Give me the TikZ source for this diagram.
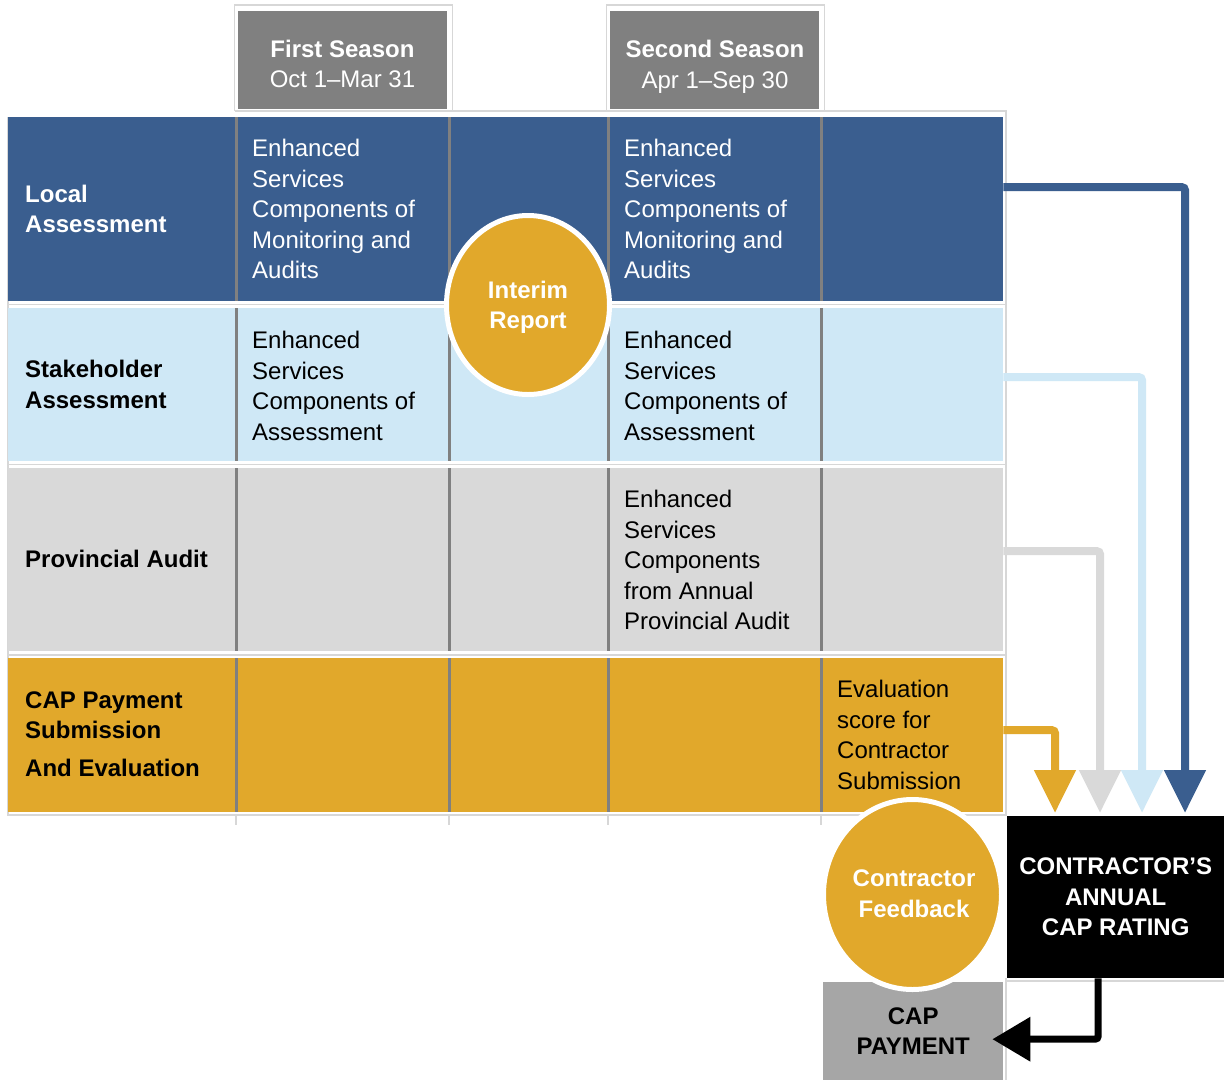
\documentclass[tikz,border=0pt]{standalone}
\usepackage{fontspec}
\setmainfont{Liberation Sans}
\usetikzlibrary{arrows.meta,shapes.geometric}
\definecolor{dblue}{RGB}{58,94,143}
\definecolor{lblue}{RGB}{207,232,246}
\definecolor{lgray}{RGB}{217,217,217}
\definecolor{gold}{RGB}{225,168,43}
\definecolor{hgray}{RGB}{128,128,128}
\definecolor{pgray}{RGB}{166,166,166}
\definecolor{gridc}{RGB}{215,215,215}
\begin{document}
\begin{tikzpicture}[x=1pt,y=-1pt,
  rowbox/.style={anchor=north west, inner sep=0pt, minimum width=995pt},
  hbox/.style={anchor=north west, inner sep=0pt, fill=hgray, minimum width=209pt, minimum height=98pt},
  txt/.style={anchor=north west, inner sep=0pt, align=left, font=\fontsize{24}{30.5}\selectfont},
  btxt/.style={anchor=north west, inner sep=0pt, align=left, font=\fontsize{24}{30.5}\selectfont\bfseries},
  ctxt/.style={inner sep=0pt, align=center, font=\fontsize{24}{30.5}\selectfont\bfseries},
  sepline/.style={draw=hgray, line width=3pt},
  gridline/.style={draw=gridc, line width=1.2pt},
  bubble/.style={ellipse, fill=gold, draw=white, line width=5pt, inner sep=0pt},
  flow/.style={line width=8pt, rounded corners=3pt, -{Triangle[width=40pt,length=43pt]}},
]
\useasboundingbox (0,0) rectangle (1224,1080);
\fill[white] (0,0) rectangle (1224,1080);
% thin grid lines
\draw[gridline] (8,117) -- (8,815) -- (1006,815) -- (1006,111) -- (234.5,111);
\draw[gridline] (234.5,111) -- (234.5,5) -- (452.5,5) -- (452.5,111);
\draw[gridline] (606.5,111) -- (606.5,5) -- (824.5,5) -- (824.5,111);
\foreach \y in {304.5,464.5,655} \draw[gridline] (8,\y) -- (1006,\y);
\foreach \x in {236,449,608,821} \draw[gridline] (\x,815) -- (\x,825);
\draw[gridline] (1006,978) -- (1006,1080);
\draw[gridline] (1006,981) -- (1224,981);
% header boxes
\node[hbox] (h1) at (238,11) {};
\node[hbox] (h2) at (610,11) {};
\node[ctxt, text=white] (h1t) at (342.5,64) {First Season\\\mdseries Oct 1–Mar 31};
\node[ctxt, text=white] (h2t) at (715,67) {Second Season\\\mdseries Apr 1–Sep 30};
% rows
\node[rowbox, fill=dblue, minimum height=184pt] (r1) at (8,117) {};
\node[rowbox, fill=lblue, minimum height=153pt] (r2) at (8,308) {};
\node[rowbox, fill=lgray, minimum height=183pt] (r3) at (8,468) {};
\node[rowbox, fill=gold, minimum height=154pt] (r4) at (8,658) {};
% column separators
\foreach \t/\b in {117/301,308/461,468/651,658/812}
  \foreach \x in {236,449,608,821}
    \draw[sepline] (\x,\t) -- (\x,\b);
% row labels
\node[btxt, text=white] (l1) at (25,184.5) {Local\\Assessment};
\node[btxt] (l2) at (25,360) {Stakeholder\\Assessment};
\node[btxt] (l3) at (25,550) {Provincial Audit};
\node[btxt] (l4) at (25,691.5) {CAP Payment\\Submission\\[7pt]And Evaluation};
% cell texts
\node[txt, text=white] (c11) at (252,139) {Enhanced\\Services\\Components of\\Monitoring and\\Audits};
\node[txt, text=white] (c12) at (624,139) {Enhanced\\Services\\Components of\\Monitoring and\\Audits};
\node[txt] (c21) at (252,331) {Enhanced\\Services\\Components of\\Assessment};
\node[txt] (c22) at (624,331) {Enhanced\\Services\\Components of\\Assessment};
\node[txt] (c32) at (624,490) {Enhanced\\Services\\Components\\from Annual\\Provincial Audit};
\node[txt] (c44) at (837,680) {Evaluation\\score for\\Contractor\\Submission};
% interim bubble
\node[bubble, minimum width=163pt, minimum height=179pt] (ir) at (528,305) {};
\node[ctxt, text=white] (irt) at (528,307.5) {Interim\\Report};
% rating box and payment
\node[anchor=north west, inner sep=0pt, fill=black, minimum width=217pt, minimum height=162pt, text=white, align=center, font=\fontsize{24}{30.5}\selectfont\bfseries] (rate) at (1007,816) {CONTRACTOR’S\\ANNUAL\\CAP RATING};
\node[anchor=north west, inner sep=0pt, fill=pgray, minimum width=180pt, minimum height=98pt, align=center, font=\fontsize{24}{30.5}\selectfont\bfseries] (pay) at (823,982) {CAP\\PAYMENT};
\node[bubble, minimum width=178pt, minimum height=190pt] (cf) at (912.5,894.5) {};
\node[ctxt, text=white] (cft) at (914,893.5) {Contractor\\Feedback};
% flows
\draw[flow, draw=dblue] ([yshift=22pt]r1.east) -| ([xshift=178pt,yshift=3pt]rate.north west);
\draw[flow, draw=lblue] ([yshift=7.5pt]r2.east) -| ([xshift=135pt,yshift=3pt]rate.north west);
\draw[flow, draw=lgray] ([yshift=8.5pt]r3.east) -| ([xshift=93pt,yshift=3pt]rate.north west);
\draw[flow, draw=gold] ([yshift=5pt]r4.east) -| ([xshift=48pt,yshift=3pt]rate.north west);
\draw[line width=7pt, rounded corners=3pt, -{Triangle[width=43pt,length=38pt]}] ([xshift=-17.5pt]rate.south) |- ([xshift=-11pt,yshift=-8pt]pay.east);
\end{tikzpicture}
\end{document}
